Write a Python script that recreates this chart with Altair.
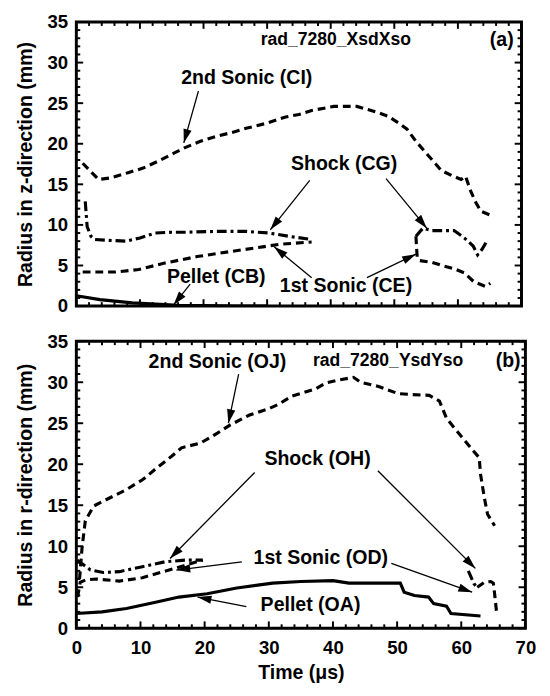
import math
import altair as alt
import pandas as pd

# ---------------- data: panel (a), z-direction ----------------
a_2nd_t = [1.0, 2.0, 3.5, 5.5, 8.0, 10.5, 13.0, 15.5, 17.0, 19.5, 22.0, 24.5, 26.7, 29.8, 32.9, 35.0, 37.0, 40.5, 44.1, 45.5, 47.2, 49.0, 50.8, 52.0, 53.4, 55.4, 57.4, 59.0, 60.5, 61.2, 62.0, 62.8, 63.6, 65.1]
a_2nd_y = [17.6, 16.8, 15.6, 15.8, 16.4, 17.0, 17.9, 18.9, 19.5, 20.3, 20.9, 21.4, 21.9, 22.5, 23.3, 23.6, 24.1, 24.6, 24.6, 24.3, 23.9, 23.4, 22.5, 21.8, 20.3, 18.5, 16.7, 16.1, 15.6, 16.0, 14.2, 12.8, 11.7, 11.2]

a_shock1_t = [1.4, 1.7, 2.3, 2.9, 5.0, 7.8, 10.0, 12.4, 15.0, 17.0, 22.0, 26.7, 30.3, 33.4, 37.0]
a_shock1_y = [12.9, 9.8, 8.6, 8.2, 8.1, 8.0, 8.4, 9.0, 9.1, 9.1, 9.2, 9.2, 9.0, 8.6, 8.2]
a_shock2_t = [53.4, 54.5, 55.9, 57.5, 59.4, 61.0, 62.4, 63.1, 63.8, 64.4]
a_shock2_y = [8.6, 9.6, 9.3, 9.3, 9.3, 8.4, 7.4, 6.3, 7.0, 7.8]

a_1st1_t = [1.0, 3.0, 6.2, 9.8, 13.9, 19.0, 24.1, 29.3, 31.8, 37.0]
a_1st1_y = [4.2, 4.2, 4.2, 4.5, 5.3, 6.1, 6.7, 7.3, 7.6, 7.9]
a_1st2_t = [53.4, 53.5, 53.6, 54.0, 55.9, 57.5, 59.4, 61.0, 62.5, 64.4, 65.1]
a_1st2_y = [8.6, 7.2, 6.0, 5.6, 5.4, 5.0, 4.6, 4.1, 3.0, 2.4, 2.8]

a_pellet_t = [0.0, 3.7, 8.8, 13.9, 16.0, 20.0, 25.0, 30.0]
a_pellet_y = [1.27, 0.8, 0.4, 0.2, 0.1, 0.05, 0.0, 0.0]

a_text_label = ["2nd Sonic (CI)", "Shock (CG)", "1st Sonic (CE)", "Pellet (CB)", "rad_7280_XsdXso", "(a)"]
a_text_t = [26.8, 42.1, 42.4, 22.0, 40.8, 66.9]
a_text_y = [28.1, 17.5, 2.5, 3.6, 32.8, 32.8]
a_text_size = [20, 20, 20, 20, 18, 20]

a_arrow_t1 = [19.2, 36.7, 48.7, 37.0, 45.7, 17.9]
a_arrow_y1 = [26.5, 15.5, 15.7, 3.5, 3.5, 2.7]
a_arrow_t2 = [16.9, 30.5, 55.1, 31.1, 53.4, 15.3]
a_arrow_y2 = [20.1, 9.4, 9.6, 7.3, 6.4, 0.15]

# ---------------- data: panel (b), r-direction ----------------
b_2nd_t = [0.5, 0.9, 1.4, 2.7, 4.7, 7.8, 10.3, 11.1, 12.3, 14.9, 16.4, 19.4, 22.0, 24.0, 27.0, 30.1, 31.5, 33.6, 37.3, 38.9, 40.5, 43.2, 44.3, 47.0, 50.2, 52.3, 55.0, 56.6, 57.7, 59.8, 61.9, 62.8, 63.0, 63.6, 64.1, 65.2]
b_2nd_y = [6.0, 9.9, 13.1, 14.9, 15.7, 16.9, 18.1, 18.6, 19.4, 21.0, 22.0, 22.6, 23.8, 24.8, 26.0, 26.8, 27.3, 28.3, 29.2, 29.9, 30.2, 30.6, 30.0, 29.5, 28.6, 28.5, 28.4, 27.7, 25.6, 23.6, 21.6, 20.8, 18.8, 15.9, 13.9, 12.5]

b_shock1_t = [0.15, 1.0, 2.2, 4.2, 6.7, 10.3, 13.8, 16.9, 19.7]
b_shock1_y = [8.3, 7.8, 7.1, 6.8, 6.9, 7.5, 8.1, 8.3, 8.3]
b_shock2_t = [61.1, 61.5, 62.0, 62.5]
b_shock2_y = [7.0, 6.3, 5.4, 5.0]

b_1st1_t = [0.2, 0.6, 1.5, 3.2, 6.7, 10.3, 12.8, 15.4, 17.9, 19.7]
b_1st1_y = [3.8, 5.6, 5.9, 6.0, 5.75, 6.15, 6.75, 7.3, 7.9, 8.3]
b_1st2_t = [62.5, 63.6, 64.6, 65.0, 65.2, 65.5]
b_1st2_y = [5.0, 5.6, 5.7, 5.5, 4.2, 2.0]

b_pellet_t = [0.0, 4.0, 7.8, 12.0, 16.0, 20.4, 25.0, 30.6, 35.0, 40.0, 42.5, 50.5, 51.1, 52.7, 54.9, 55.7, 57.7, 58.4, 63.0]
b_pellet_y = [1.8, 2.0, 2.4, 3.1, 3.8, 4.2, 4.9, 5.5, 5.7, 5.8, 5.5, 5.5, 4.4, 4.0, 3.8, 3.0, 2.7, 1.8, 1.5]

b_text_label = ["2nd Sonic (OJ)", "Shock (OH)", "1st Sonic (OD)", "Pellet (OA)", "rad_7280_YsdYso", "(b)"]
b_text_t = [22.0, 37.6, 38.1, 36.5, 48.6, 67.3]
b_text_y = [32.4, 20.6, 8.5, 2.8, 32.6, 32.6]
b_text_size = [20, 20, 20, 20, 18, 20]

b_arrow_t1 = [25.3, 27.8, 47.0, 25.8, 49.1, 26.5]
b_arrow_y1 = [31.0, 19.0, 19.2, 8.1, 7.9, 2.65]
b_arrow_t2 = [23.7, 14.6, 62.2, 15.6, 61.7, 18.9]
b_arrow_y2 = [25.0, 8.5, 7.3, 7.1, 4.4, 3.8]

# axis ticks
x_major = list(range(0, 71, 10))
x_minor = [v for v in range(0, 71, 2) if v % 10 != 0]
y_major = list(range(0, 36, 5))
y_minor = [v for v in range(0, 36, 1) if v % 5 != 0]

FONT = "Liberation Sans"
XMAX, YMAX = 70, 35
ARROW_PATH = "M0,0L-0.6,2L0.6,2Z"


def series_df(segments):
    rows = []
    for s, (ts, ys) in enumerate(segments):
        for i, (t, y) in enumerate(zip(ts, ys)):
            rows.append({"t": t, "y": y, "seg": s, "i": i})
    return pd.DataFrame(rows)


def panel(curves, texts, arrows, W, H, ytitle, bottom):
    xs = alt.Scale(domain=[0, XMAX], nice=False, zero=False)
    ys = alt.Scale(domain=[0, YMAX], nice=False, zero=False)
    if bottom:
        xaxis = alt.Axis(values=x_major, ticks=False, domain=False, grid=False,
                         labelPadding=11, title="Time (μs)", titlePadding=6, labelFlush=False)
    else:
        xaxis = None
    yaxis = alt.Axis(values=y_major, ticks=False, domain=False, grid=False,
                     labelPadding=9, title=ytitle, titlePadding=12, labelFlush=False)

    def X(f):
        return alt.X(f, scale=xs, axis=xaxis)

    def Y(f):
        return alt.Y(f, scale=ys, axis=yaxis)

    layers = []
    for (segs, dash) in curves:
        df = series_df(segs)
        props = dict(color="black", strokeWidth=3.2, clip=True)
        if dash:
            props["strokeDash"] = dash
        layers.append(alt.Chart(df).mark_line(**props).encode(
            x=X("t:Q"), y=Y("y:Q"), detail="seg:N", order="i:Q"))

    # inward ticks
    xmaj = pd.DataFrame({"t": x_major})
    xmin = pd.DataFrame({"t": x_minor})
    ymaj = pd.DataFrame({"y": y_major})
    ymin = pd.DataFrame({"y": y_minor})
    for df, ln in ((xmaj, 7), (xmin, 4)):
        base = alt.Chart(df).mark_rule(color="black", strokeWidth=2)
        layers.append(base.encode(x=X("t:Q"), y=alt.value(H), y2=alt.value(H - ln)))
        layers.append(base.encode(x=X("t:Q"), y=alt.value(0), y2=alt.value(ln)))
    for df, ln in ((ymaj, 7), (ymin, 4)):
        base = alt.Chart(df).mark_rule(color="black", strokeWidth=2)
        layers.append(base.encode(y=Y("y:Q"), x=alt.value(0), x2=alt.value(ln)))
        layers.append(base.encode(y=Y("y:Q"), x=alt.value(W), x2=alt.value(W - ln)))

    # arrows
    t1, y1, t2, y2 = arrows
    angs = []
    for a, b, c, d in zip(t1, y1, t2, y2):
        dx = (c - a) * W / XMAX
        dy = -(d - b) * H / YMAX
        angs.append(math.degrees(math.atan2(dx, -dy)) % 360)
    adf = pd.DataFrame({"t": t1, "y": y1, "t2": t2, "y2": y2, "ang": angs})
    layers.append(alt.Chart(adf).mark_rule(color="black", strokeWidth=1.3).encode(
        x=X("t:Q"), y=Y("y:Q"), x2="t2:Q", y2="y2:Q"))
    layers.append(alt.Chart(adf).mark_point(shape=ARROW_PATH, filled=True, size=200,
                                            color="black", opacity=1, strokeWidth=0).encode(
        x=X("t2:Q"), y=Y("y2:Q"), angle=alt.Angle("ang:Q", scale=None)))

    # texts
    labels, tt, ty, tsz = texts
    tdf = pd.DataFrame({"label": labels, "t": tt, "y": ty, "size": tsz})
    layers.append(alt.Chart(tdf).mark_text(font=FONT, fontWeight="bold", color="black",
                                           align="center", baseline="middle").encode(
        x=X("t:Q"), y=Y("y:Q"), text="label:N", size=alt.Size("size:Q", scale=None)))

    return alt.layer(*layers).properties(width=W, height=H)


top = panel(
    curves=[
        ([(a_2nd_t, a_2nd_y)], [8, 5]),
        ([(a_shock1_t, a_shock1_y), (a_shock2_t, a_shock2_y)], [10, 4, 3, 4]),
        ([(a_1st1_t, a_1st1_y), (a_1st2_t, a_1st2_y)], [8, 5]),
        ([(a_pellet_t, a_pellet_y)], None),
    ],
    texts=(a_text_label, a_text_t, a_text_y, a_text_size),
    arrows=(a_arrow_t1, a_arrow_y1, a_arrow_t2, a_arrow_y2),
    W=456, H=291, ytitle="Radius in z-direction (mm)", bottom=False,
)

bottom = panel(
    curves=[
        ([(b_2nd_t, b_2nd_y)], [8, 5]),
        ([(b_shock1_t, b_shock1_y), (b_shock2_t, b_shock2_y)], [10, 4, 3, 4]),
        ([(b_1st1_t, b_1st1_y), (b_1st2_t, b_1st2_y)], [8, 5]),
        ([(b_pellet_t, b_pellet_y)], None),
    ],
    texts=(b_text_label, b_text_t, b_text_y, b_text_size),
    arrows=(b_arrow_t1, b_arrow_y1, b_arrow_t2, b_arrow_y2),
    W=460, H=294, ytitle="Radius in r-direction (mm)", bottom=True,
)

chart = alt.vconcat(top, bottom, spacing=36, bounds="flush").properties(
    padding={"left": 6, "top": -5, "right": 4, "bottom": 0},
    background="white",
).configure_view(
    stroke="black", strokeWidth=3
).configure_axis(
    labelFont=FONT, labelFontSize=19, labelFontWeight="bold", labelColor="black",
    titleFont=FONT, titleFontSize=20, titleFontWeight="bold", titleColor="black",
)

chart.save("out.html", embed_options={"renderer": "svg", "actions": False})
